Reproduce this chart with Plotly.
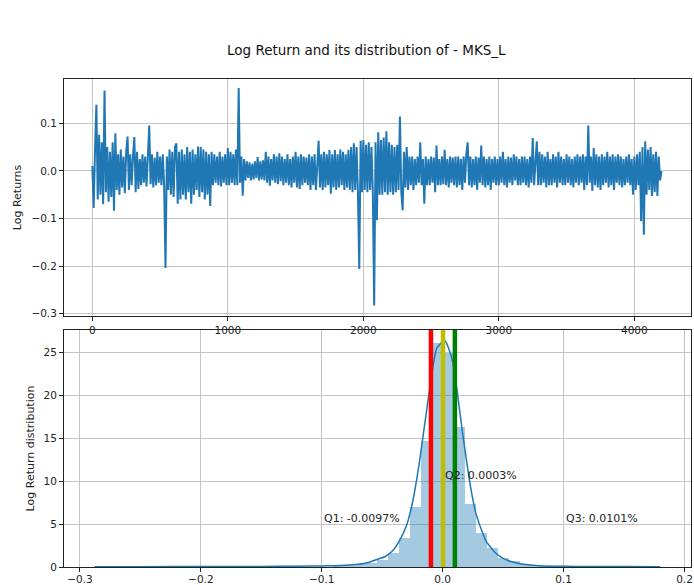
import plotly.graph_objects as go

# ---------------- data ----------------
# Log returns, one value every 10 trading days
day_step = 10
log_returns = [
    0.01, -0.078, 0.045, 0.139, -0.06, 0.076, -0.05, 0.06, -0.07, 0.169,
    -0.045, 0.05, -0.065, 0.04, -0.055, 0.06, -0.084, 0.079, -0.04, 0.035,
    -0.05, 0.045, -0.035, 0.03, -0.047, 0.04, 0.072, -0.04, 0.035, -0.03,
    0.03, 0.071, -0.045, 0.04, -0.038, 0.025, -0.03, 0.035, -0.025, 0.03,
    -0.033, 0.03, 0.095, -0.028, 0.035, -0.035, 0.028, -0.03, 0.04, -0.025,
    0.03, -0.03, 0.035, -0.032, -0.204, 0.03, -0.04, 0.045, -0.05, 0.04,
    -0.055, 0.05, 0.058, -0.069, 0.04, -0.06, 0.045, -0.05, 0.035, -0.06,
    0.05, -0.045, 0.04, -0.069, 0.045, -0.05, 0.035, -0.04, 0.051, -0.055,
    0.05, -0.045, 0.045, -0.06, 0.04, -0.05, 0.035, -0.074, 0.04, -0.03,
    0.035, -0.025, 0.03, -0.03, 0.04, -0.033, 0.03, -0.025, 0.035, -0.03,
    0.048, -0.03, 0.04, -0.025, 0.035, -0.03, 0.045, -0.03, 0.174, -0.025,
    0.03, -0.052, 0.025, -0.02, 0.02, -0.015, 0.018, -0.02, 0.015, -0.018,
    0.02, -0.015, 0.029, -0.02, 0.02, -0.018, 0.022, -0.02, 0.04, -0.025,
    0.03, -0.031, 0.025, -0.02, 0.035, -0.025, 0.03, -0.028, 0.037, -0.022,
    0.03, -0.03, 0.025, -0.025, 0.035, -0.03, 0.025, -0.035, 0.03, -0.025,
    0.04, -0.035, 0.03, -0.038, 0.035, -0.03, 0.03, -0.025, 0.028, -0.03,
    0.035, -0.04, 0.03, -0.03, 0.035, -0.04, 0.03, 0.063, -0.035, 0.035,
    -0.04, 0.04, -0.035, 0.035, -0.03, 0.044, -0.048, 0.035, -0.035, 0.044,
    -0.04, 0.035, -0.035, 0.045, -0.03, 0.04, -0.04, 0.035, -0.035, 0.044,
    -0.04, 0.05, -0.045, 0.058, -0.04, 0.05, -0.045, -0.206, 0.063, -0.045,
    0.065, -0.04, 0.055, -0.045, 0.06, -0.04, 0.05, -0.045, -0.283, 0.06,
    -0.104, 0.081, -0.05, 0.065, -0.05, 0.07, -0.045, 0.083, -0.05, 0.06,
    -0.045, 0.055, -0.05, 0.05, -0.045, 0.055, -0.04, 0.114, -0.045, -0.083,
    0.04, -0.035, 0.05, -0.04, 0.03, -0.03, 0.03, -0.04, 0.025, -0.03,
    0.03, -0.025, 0.06, -0.03, 0.025, -0.069, 0.03, -0.03, 0.025, -0.03,
    0.03, -0.025, 0.028, -0.045, 0.053, -0.03, 0.025, -0.03, 0.03, -0.028,
    0.044, -0.03, 0.025, -0.035, 0.03, -0.025, 0.028, -0.03, 0.03, -0.035,
    0.03, -0.03, 0.025, -0.04, 0.03, -0.025, 0.035, 0.06, -0.03, 0.03,
    -0.035, 0.025, -0.03, 0.03, -0.04, 0.028, -0.025, 0.053, -0.03, 0.03,
    -0.035, 0.025, -0.03, 0.03, -0.04, 0.025, -0.025, 0.03, -0.03, 0.025,
    -0.03, 0.03, -0.025, 0.04, -0.03, 0.025, -0.035, 0.03, -0.025, 0.028,
    -0.03, 0.035, -0.02, 0.03, -0.03, 0.025, -0.03, 0.03, -0.025, 0.03,
    -0.03, 0.025, -0.035, 0.03, -0.025, 0.069, -0.03, 0.03, 0.062, -0.03,
    0.04, -0.03, 0.035, -0.025, 0.03, -0.035, 0.04, -0.03, 0.025, -0.03,
    0.035, -0.025, 0.03, -0.035, 0.04, -0.025, 0.03, -0.03, 0.025, -0.03,
    0.035, -0.025, 0.03, -0.03, 0.025, -0.035, 0.03, -0.025, 0.035, -0.03,
    0.03, -0.025, 0.035, -0.04, 0.03, -0.03, 0.095, -0.025, 0.03, -0.042,
    0.048, -0.03, 0.035, -0.035, 0.03, -0.04, 0.035, -0.03, 0.03, -0.025,
    0.04, -0.035, 0.03, -0.03, 0.035, -0.04, 0.03, -0.025, 0.035, -0.03,
    0.03, -0.035, 0.025, -0.03, 0.03, -0.025, 0.035, -0.03, 0.025, -0.05,
    0.03, -0.04, 0.035, -0.03, 0.04, -0.106, 0.05, -0.134, 0.062, -0.05,
    0.045, -0.04, 0.05, -0.053, 0.035, -0.045, 0.04, -0.053, 0.03, -0.02,
    0.0,
]
day_index = [i * day_step for i in range(len(log_returns))]

# Histogram (density) of the log returns: 50 equal bins
hist_bin_start = -0.283
hist_bin_width = 0.00914
hist_density = [
    0.03, 0.0, 0.0, 0.0, 0.0, 0.0, 0.0, 0.0, 0.05, 0.0,
    0.0, 0.0, 0.0, 0.0, 0.0, 0.0, 0.03, 0.0, 0.0, 0.05,
    0.05, 0.1, 0.18, 0.3, 0.5, 0.85, 1.6, 3.4, 7.0, 14.7,
    26.2, 25.0, 16.3, 7.3, 4.0, 2.2, 1.1, 0.65, 0.4, 0.25,
    0.15, 0.1, 0.08, 0.05, 0.03, 0.03, 0.0, 0.03, 0.0, 0.05,
]
hist_centers = [hist_bin_start + (k + 0.5) * hist_bin_width for k in range(len(hist_density))]

# Kernel density estimate curve
kde_x = [-0.288, -0.25, -0.2, -0.15, -0.12, -0.10, -0.09, -0.08, -0.07, -0.062,
         -0.055, -0.048, -0.042, -0.036, -0.03, -0.025, -0.02, -0.015, -0.01, -0.005,
         0.0, 0.002, 0.005, 0.0085, 0.012, 0.0166, 0.0235, 0.0276, 0.033, 0.036,
         0.044, 0.05, 0.055, 0.062, 0.069, 0.08, 0.1, 0.12, 0.15, 0.18]
kde_y = [0.03, 0.04, 0.05, 0.06, 0.1, 0.13, 0.15, 0.2, 0.32, 0.5,
         0.85, 1.2, 1.8, 3.0, 4.8, 7.5, 11.5, 16.5, 21.5, 25.5,
         26.3, 26.4, 25.5, 23.8, 20.5, 15.5, 9.0, 6.2, 4.0, 3.0,
         1.6, 1.0, 0.7, 0.45, 0.3, 0.15, 0.08, 0.06, 0.05, 0.04]

# Quartiles
quartile_names = ["Q1", "Q2", "Q3"]
quartile_values = [-0.0097, 0.0003, 0.0101]

top_xticks = [0, 1000, 2000, 3000, 4000]
top_yticks = [-0.3, -0.2, -0.1, 0.0, 0.1]
bottom_xticks = [-0.3, -0.2, -0.1, 0.0, 0.1, 0.2]
bottom_yticks = [0, 5, 10, 15, 20, 25]

title_text = "Log Return and its distribution of - MKS_L"

# ---------------- figure ----------------
W, H = 694, 585
BLUE = "#1f77b4"
GRID = "#c4c4c4"
FONT = "DejaVu Sans"
quartile_colors = ["#ff0000", "#bfbf00", "#008000"]
label_pos = [(-0.1, 5), (0.0, 10), (0.1, 5)]

def px_x(p):
    return p / W

def px_y(p):
    return 1 - p / H

fig = go.Figure()

fig.add_trace(go.Scatter(
    x=day_index, y=log_returns, mode="lines",
    line=dict(color=BLUE, width=2), xaxis="x", yaxis="y",
    hoverinfo="skip"))

fig.add_trace(go.Bar(
    x=hist_centers, y=hist_density, width=hist_bin_width,
    marker=dict(color="rgba(31,119,180,0.4)", line=dict(width=0)),
    xaxis="x2", yaxis="y2", hoverinfo="skip"))

fig.add_trace(go.Scatter(
    x=kde_x, y=kde_y, mode="lines",
    line=dict(color=BLUE, width=1.5, shape="spline", smoothing=0.6),
    xaxis="x2", yaxis="y2", hoverinfo="skip"))

shapes = []
annotations = []
for name, val, col, (lx, ly) in zip(quartile_names, quartile_values, quartile_colors, label_pos):
    shapes.append(dict(type="line", xref="x2", yref="y2 domain",
                       x0=val, x1=val, y0=0, y1=1,
                       line=dict(color=col, width=4.5), layer="above"))
    annotations.append(dict(x=lx, y=ly, xref="x2", yref="y2",
                            text=f"{name}: {val:.4f}%", showarrow=False,
                            xanchor="left", yanchor="bottom", yshift=-3,
                            font=dict(size=11, color="#222222", family=FONT)))

annotations.append(dict(x=px_x(367), y=px_y(50), xref="paper", yref="paper",
                        text=title_text, showarrow=False,
                        xanchor="center", yanchor="middle",
                        font=dict(size=13.5, color="#111111", family=FONT)))

axis_common = dict(showgrid=True, gridcolor=GRID, gridwidth=1,
                   showline=True, linecolor="#222222", linewidth=1, mirror=True,
                   ticks="outside", ticklen=4, tickcolor="#222222",
                   tickfont=dict(size=10.5, color="#222222", family=FONT),
                   zeroline=False)

x_dom = [px_x(64), px_x(691)]

fig.update_layout(
    autosize=True,
    margin=dict(l=0, r=0, t=0, b=0, autoexpand=False),
    paper_bgcolor="white", plot_bgcolor="white",
    showlegend=False, bargap=0,
    font=dict(family=FONT),
    shapes=shapes, annotations=annotations,
    xaxis=dict(domain=x_dom, range=[-209, 4418], tickvals=top_xticks,
               anchor="y", **axis_common),
    yaxis=dict(domain=[px_y(316), px_y(79)], range=[-0.305, 0.193],
               tickvals=top_yticks, tickformat=".1f", anchor="x",
               title=dict(text="Log Returns", standoff=7,
                          font=dict(size=11, color="#222222", family=FONT)),
               **axis_common),
    xaxis2=dict(domain=x_dom, range=[-0.3132, 0.2054], tickvals=bottom_xticks,
                tickformat=".1f", anchor="y2", ticklabelstandoff=-2,
                **axis_common),
    yaxis2=dict(domain=[px_y(567), px_y(330)], range=[0, 27.66],
                tickvals=bottom_yticks, anchor="x2",
                title=dict(text="Log Return distribution", standoff=6,
                           font=dict(size=11, color="#222222", family=FONT)),
                **axis_common),
)

fig.write_html(
    "out.html",
    default_width="100vw", default_height="100vh",
    config={"displayModeBar": False},
    post_script=("document.body.style.margin='0';"
                 "document.body.style.overflow='hidden';"
                 "document.documentElement.style.overflow='hidden';"),
)
